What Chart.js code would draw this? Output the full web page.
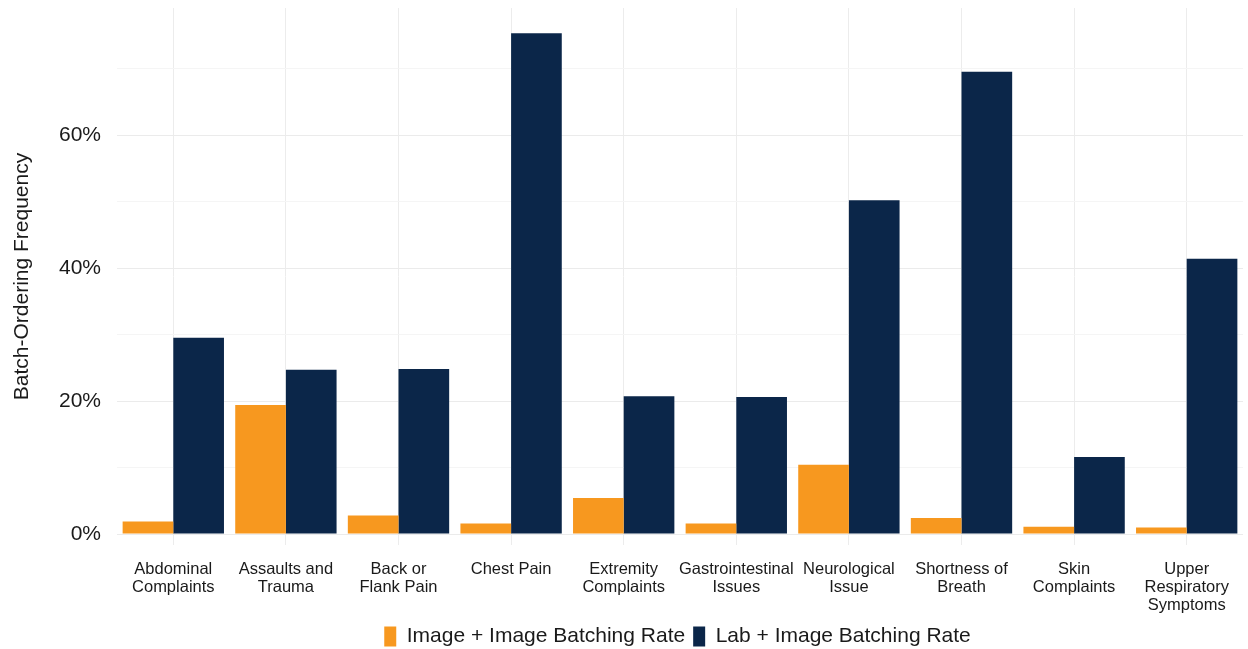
<!DOCTYPE html>
<html>
<head>
<meta charset="utf-8">
<script src="https://cdn.jsdelivr.net/npm/chart.js@4"></script>
<style>
  html, body { margin: 0; padding: 0; background: #fff; }
  #wrap { width: 1248px; height: 649px; position: relative; }
</style>
</head>
<body>
<div id="wrap"><canvas id="batch_chart"></canvas></div>
<script>
// complaint categories (x axis)
var categories = [
  ["Abdominal", "Complaints"],
  ["Assaults and", "Trauma"],
  ["Back or", "Flank Pain"],
  "Chest Pain",
  ["Extremity", "Complaints"],
  ["Gastrointestinal", "Issues"],
  ["Neurological", "Issue"],
  ["Shortness of", "Breath"],
  ["Skin", "Complaints"],
  ["Upper", "Respiratory", "Symptoms"]
];

// batching rates in %
var image_image = [1.9, 19.4, 2.8, 1.6, 5.4, 1.6, 10.4, 2.4, 1.1, 1.0];
var lab_image = [29.5, 24.7, 24.8, 75.3, 20.7, 20.6, 50.2, 69.5, 11.6, 41.4];

var y_ticks = [0, 20, 40, 60];

Chart.defaults.font.family = "'Liberation Sans', Arial, Helvetica, sans-serif";
Chart.defaults.color = "#1a1a1a";

// legend is centred on the plot area, not the whole canvas
var shift_legend = {
  id: 'shift_legend',
  afterLayout: function(chart) {
    var dx = (chart.chartArea.left + chart.chartArea.right) / 2 - chart.width / 2;
    chart.legend.left += dx;
    chart.legend.right += dx;
  }
};

new Chart(document.getElementById("batch_chart"), {
  type: 'bar',
  data: {
    labels: categories,
    datasets: [{
        data: image_image,
        label: "Image + Image Batching Rate",
        backgroundColor: "#f7981f",
        borderWidth: 0
      }, {
        data: lab_image,
        label: "Lab + Image Batching Rate",
        backgroundColor: "#0b2649",
        borderWidth: 0
      }
    ]
  },
  plugins: [shift_legend],
  options: {
    responsive: true,
    maintainAspectRatio: false,
    animation: false,
    categoryPercentage: 0.9,
    barPercentage: 1.0,
    layout: { padding: { top: 8, right: 5, left: 0, bottom: -8 } },
    plugins: {
      tooltip: { enabled: false },
      legend: {
        position: 'bottom',
        labels: {
          boxWidth: 12,
          boxHeight: 20,
          padding: 8,
          font: { size: 21 },
          color: "#1a1a1a"
        }
      }
    },
    scales: {
      x: {
        offset: true,
        grid: { offset: false, color: "#ececec", lineWidth: 1, drawTicks: false },
        border: { display: false },
        ticks: { font: { size: 16.5, lineHeight: 1.1 }, padding: 15, maxRotation: 0, autoSkip: false, color: "#1a1a1a" },
        afterFit: function(scale) { scale.height = 73; scale.paddingLeft = 0; scale.paddingRight = 0; }
      },
      y: {
        min: -1.65,
        max: 79.1,
        afterBuildTicks: function(scale) {
          var t = [];
          for (var v = 0; v <= 70; v += 10) t.push({ value: v });
          scale.ticks = t;
        },
        grid: {
          drawTicks: false,
          color: function(ctx) {
            return (ctx.tick && ctx.tick.value % 20 === 0) ? "#ebebeb" : "#f5f5f5";
          }
        },
        border: { display: false },
        ticks: {
          font: { size: 21 },
          padding: 16,
          color: "#1a1a1a",
          callback: function(value) {
            return y_ticks.indexOf(value) >= 0 ? value + "%" : "";
          }
        },
        title: {
          display: true,
          text: "Batch-Ordering Frequency",
          font: { size: 21 },
          color: "#1a1a1a",
          padding: { top: 10, bottom: 0 }
        },
        afterFit: function(scale) {
          scale.width = 117;
          scale.paddingTop = 0;
          scale.paddingBottom = 0;
        }
      }
    }
  }
});
</script>
</body>
</html>
